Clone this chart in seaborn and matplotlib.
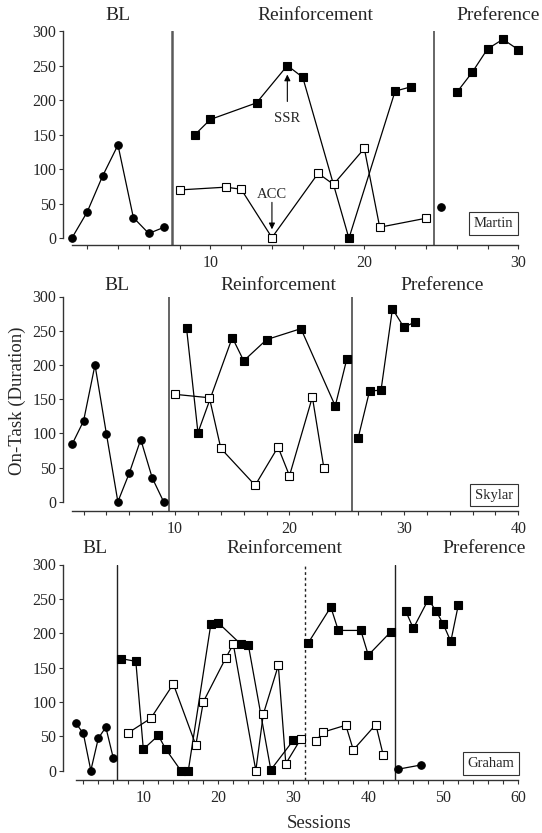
import matplotlib
matplotlib.use("Agg")
import matplotlib.pyplot as plt
import seaborn as sns

# ---------------- data ----------------
# Martin
martin_bl_x = [1, 2, 3, 4, 5, 6, 7]
martin_bl_y = [0, 38, 90, 135, 30, 7, 16]
martin_ssr_x = [9, 10, 13, 15, 16, 19, 22, 23]
martin_ssr_y = [150, 172, 196, 250, 233, 0, 213, 219]
martin_acc_x = [8, 11, 12, 14, 17, 18, 20, 21, 24]
martin_acc_y = [70, 74, 71, 1, 94, 78, 130, 16, 29]
martin_pref_circ_x = [25]
martin_pref_circ_y = [45]
martin_pref_sq_x = [26, 27, 28, 29, 30]
martin_pref_sq_y = [211, 240, 274, 288, 273]

# Skylar
skylar_bl_x = [1, 2, 3, 4, 5, 6, 7, 8, 9]
skylar_bl_y = [84, 118, 200, 99, 0, 42, 91, 35, 0]
skylar_ssr_x = [11, 12, 15, 16, 18, 21, 24, 25]
skylar_ssr_y = [254, 101, 240, 206, 237, 253, 140, 208]
skylar_acc_x = [10, 13, 14, 17, 19, 20, 22, 23]
skylar_acc_y = [157, 152, 78, 24, 80, 38, 153, 50]
skylar_pref_sq_x = [26, 27, 28, 29, 30, 31]
skylar_pref_sq_y = [93, 162, 163, 282, 255, 263]

# Graham
graham_bl_x = [1, 2, 3, 4, 5, 6]
graham_bl_y = [69, 54, 0, 47, 63, 18]
graham_ssr1_x = [7, 9, 10, 12, 13, 15, 16, 19, 20, 23, 24, 27, 30]
graham_ssr1_y = [163, 159, 31, 51, 31, 0, 0, 213, 215, 184, 183, 1, 44]
graham_acc1_x = [8, 11, 14, 17, 18, 21, 22, 25, 26, 28, 29, 31]
graham_acc1_y = [55, 76, 126, 37, 100, 164, 184, 0, 82, 153, 10, 46]
graham_ssr2_x = [32, 35, 36, 39, 40, 43]
graham_ssr2_y = [186, 238, 204, 204, 168, 202]
graham_acc2_x = [33, 34, 37, 38, 41, 42]
graham_acc2_y = [43, 56, 66, 30, 67, 22]
graham_pref_circ_x = [44, 47]
graham_pref_circ_y = [2, 8]
graham_pref_sq_x = [45, 46, 48, 49, 50, 51, 52]
graham_pref_sq_y = [232, 207, 249, 233, 213, 188, 241]

phase_titles = ["BL", "Reinforcement", "Preference"]
y_ticks = [0, 50, 100, 150, 200, 250, 300]
y_label = "On-Task (Duration)"
x_label = "Sessions"

# ---------------- style ----------------
sns.set_style("white")
plt.rcParams["font.family"] = ["Liberation Serif", "DejaVu Serif"]
plt.rcParams["mathtext.fontset"] = "stix"

W, H = 542, 833
fig = plt.figure(figsize=(W / 100, H / 100), dpi=100)

AX_L, AX_R = 63.3, 518.3


def make_ax(top_px, bottom_px):
    return fig.add_axes([AX_L / W, 1 - bottom_px / H,
                         (AX_R - AX_L) / W, (bottom_px - top_px) / H])


def series(ax, x, y, kind):
    if kind == "circle":
        mk, fc, ms = "o", "black", 5.4
    elif kind == "filled":
        mk, fc, ms = "s", "black", 5.2
    else:
        mk, fc, ms = "s", "white", 5.4
    sns.lineplot(x=x, y=y, ax=ax, color="black", linewidth=0.9,
                 marker=mk, markersize=ms, markerfacecolor=fc,
                 markeredgecolor="black", markeredgewidth=0.8,
                 sort=False, estimator=None, legend=False,
                 clip_on=False, zorder=4 if kind == "open" else 3)


def style_ax(ax, xmin, xmax, ybot):
    ax.set_xlim(xmin, xmax)
    ax.set_ylim(ybot, 300)
    for s in ("top", "right"):
        ax.spines[s].set_visible(False)
    for s in ("left", "bottom"):
        ax.spines[s].set_color("#333333")
        ax.spines[s].set_linewidth(1.0)
    ax.spines["left"].set_bounds(0, 300)
    ax.spines["bottom"].set_bounds(1, xmax)
    ax.set_yticks(y_ticks)
    ax.set_yticklabels([str(v) for v in y_ticks])
    xt = list(range(2, int(xmax) + 1, 2))
    ax.set_xticks(xt)
    ax.set_xticklabels([str(t) if t % 10 == 0 else "" for t in xt])
    ax.tick_params(axis="both", direction="out", length=3, width=0.8,
                   color="#333333", labelsize=11.5, pad=2,
                   bottom=True, left=True)
    ax.tick_params(axis="x", pad=4)
    ax.set_xlabel("")
    ax.set_ylabel("")
    ax.grid(False)
    ax.set_facecolor("none")


def titles(ax, xs, off):
    for t, x in zip(phase_titles, xs):
        ax.annotate(t, xy=(x, 1.0), xycoords=ax.get_xaxis_transform(),
                    xytext=(0, off), textcoords="offset pixels",
                    ha="center", va="baseline", fontsize=14)


def name_box(ax, name, dx, dy):
    ax.annotate(name, xy=(1, 0), xycoords="axes fraction",
                xytext=(-dx, dy), textcoords="offset pixels",
                ha="right", va="bottom", fontsize=10.5, zorder=6,
                bbox=dict(boxstyle="square,pad=0.33", fc="white",
                          ec="#333333", lw=0.8))


# ---------------- Martin ----------------
ax1 = make_ax(31, 245.2)
ax1.axvline(7.5, color="#5a5a5a", lw=1.8, zorder=1)
ax1.axvline(24.5, color="#5a5a5a", lw=1.3, zorder=1)
series(ax1, martin_bl_x, martin_bl_y, "circle")
series(ax1, martin_ssr_x, martin_ssr_y, "filled")
series(ax1, martin_acc_x, martin_acc_y, "open")
series(ax1, martin_pref_circ_x, martin_pref_circ_y, "circle")
series(ax1, martin_pref_sq_x, martin_pref_sq_y, "filled")
style_ax(ax1, 0.45, 30, -10)
titles(ax1, [4.0, 16.8, 28.7], 11)
name_box(ax1, "Martin", 5, 15)
ax1.text(15, 174, "SSR", ha="center", va="center", fontsize=10.5)
ax1.annotate("", xy=(15, 237), xytext=(15, 198),
             arrowprops=dict(arrowstyle="-|>", color="black", lw=0.8,
                             mutation_scale=9, shrinkA=0, shrinkB=0))
ax1.text(14, 64, "ACC", ha="center", va="center", fontsize=10.5)
ax1.annotate("", xy=(14, 13), xytext=(14, 52),
             arrowprops=dict(arrowstyle="-|>", color="black", lw=0.8,
                             mutation_scale=9, shrinkA=0, shrinkB=0))

# ---------------- Skylar ----------------
ax2 = make_ax(296.5, 511)
ax2.axvline(9.5, color="#4a4a4a", lw=1.2, zorder=1)
ax2.axvline(25.5, color="#4a4a4a", lw=1.2, zorder=1)
series(ax2, skylar_bl_x, skylar_bl_y, "circle")
series(ax2, skylar_ssr_x, skylar_ssr_y, "filled")
series(ax2, skylar_acc_x, skylar_acc_y, "open")
series(ax2, skylar_pref_sq_x, skylar_pref_sq_y, "filled")
style_ax(ax2, 0.23, 40, -13.5)
titles(ax2, [4.9, 19.0, 33.3], 7)
name_box(ax2, "Skylar", 5, 9.5)

# ---------------- Graham ----------------
ax3 = make_ax(564.5, 780)
ax3.axvline(6.5, color="#222222", lw=1.0, zorder=1)
ax3.axvline(31.5, color="#222222", lw=1.0, ls=(0, (2, 2)), zorder=1)
ax3.axvline(43.6, color="#222222", lw=1.0, zorder=1)
series(ax3, graham_bl_x, graham_bl_y, "circle")
series(ax3, graham_ssr1_x, graham_ssr1_y, "filled")
series(ax3, graham_acc1_x, graham_acc1_y, "open")
series(ax3, graham_ssr2_x, graham_ssr2_y, "filled")
series(ax3, graham_acc2_x, graham_acc2_y, "open")
series(ax3, graham_pref_circ_x, graham_pref_circ_y, "circle")
series(ax3, graham_pref_sq_x, graham_pref_sq_y, "filled")
style_ax(ax3, -0.67, 60, -13.8)
titles(ax3, [3.5, 28.8, 55.5], 11.5)
name_box(ax3, "Graham", 4, 10)

fig.text(17 / W, 1 - 400.8 / H, y_label, rotation=90, ha="center",
         va="center", fontsize=13.5)
fig.text(319 / W, 1 - 823 / H, x_label, ha="center", va="center",
         fontsize=13.5)

fig.savefig("out.png", dpi=100)
